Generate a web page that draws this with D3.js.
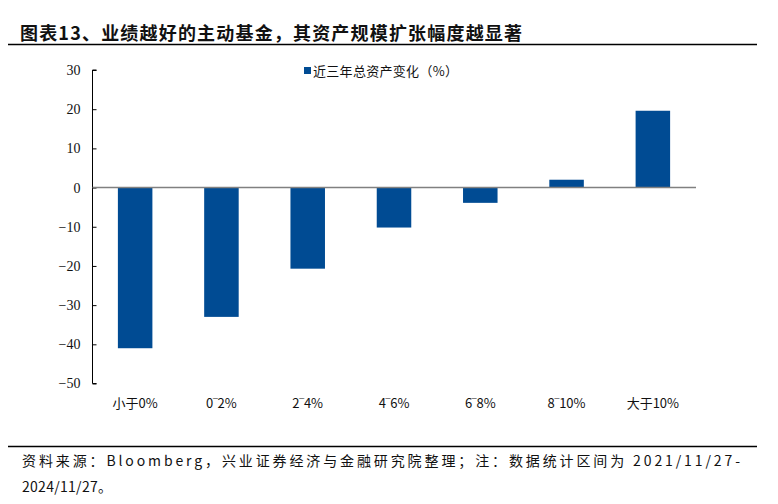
<!DOCTYPE html>
<html><head><meta charset="utf-8">
<script src="https://cdn.jsdelivr.net/npm/d3@7"></script>
<style>body{margin:0;background:#fff}svg{display:block}</style>
</head><body>
<script>
const categories = ["小于0%", "0‾2%", "2‾4%", "4‾6%", "6‾8%", "8‾10%", "大于10%"];
const values = [-41.0, -33.0, -20.7, -10.2, -3.9, 2.0, 19.6];
const yTicks = [30, 20, 10, 0, -10, -20, -30, -40, -50];
const seriesName = "近三年总资产变化（%）";
const titleText = "图表13、业绩越好的主动基金，其资产规模扩张幅度越显著";
const footLine1 = "资料来源：Bloomberg，兴业证券经济与金融研究院整理；注：数据统计区间为 2021/11/27-";
const footLine2 = "2024/11/27。";

const W = 778, H = 504;
const svg = d3.select("body").append("svg").attr("width", W).attr("height", H);
const cjk = "'Noto Sans CJK SC', 'Liberation Serif', serif";
const serif = "'Times New Roman', 'Liberation Serif', 'DejaVu Serif', serif";

svg.append("text").attr("x", 20).attr("y", 40).attr("font-family", cjk)
  .attr("font-weight", "bold").attr("font-size", 18).attr("fill", "#111")
  .attr("textLength", 502).attr("lengthAdjust", "spacing").text(titleText);
svg.append("line").attr("x1", 8).attr("x2", 757).attr("y1", 44.5).attr("y2", 44.5)
  .attr("stroke", "#000").attr("stroke-width", 1.5);

const x = d3.scaleBand().domain(categories).range([92, 696]).paddingInner(0.6).paddingOuter(0.3);
const y = d3.scaleLinear().domain([-50, 30]).range([383.5, 70]);

// bars
svg.selectAll("rect.bar").data(values).enter().append("rect")
  .attr("x", (d, i) => x(categories[i]))
  .attr("width", x.bandwidth())
  .attr("y", d => y(Math.max(0, d)))
  .attr("height", d => Math.abs(y(d) - y(0)))
  .attr("fill", "#004b93");

// y axis
const yAxis = d3.axisRight(y).tickValues(yTicks).tickSize(4).tickFormat(d => d < 0 ? "−" + Math.abs(d) : d);
const ga = svg.append("g").attr("transform", "translate(92.5,0)").call(yAxis)
  .attr("font-family", serif).attr("font-size", 14);
ga.select(".domain").attr("stroke", "#000").attr("d", "M4,70H0V383.5H4");
ga.selectAll(".tick line").attr("stroke", "#000");
ga.selectAll(".tick text").attr("x", -12).attr("text-anchor", "end")
  .style("font-family", serif).attr("fill", "#111");

// zero line
svg.append("line").attr("x1", 92.5).attr("x2", 696).attr("y1", y(0)).attr("y2", y(0))
  .attr("stroke", "#808080").attr("stroke-width", 1.5);

// x labels
svg.selectAll("text.xl").data(categories).enter().append("text")
  .attr("x", d => x(d) + x.bandwidth() / 2).attr("y", 408)
  .attr("text-anchor", "middle").attr("font-family", cjk).attr("font-size", 13).attr("fill", "#111")
  .text(d => d);

// legend
svg.append("rect").attr("x", 304).attr("y", 67).attr("width", 7).attr("height", 7).attr("fill", "#004b93");
svg.append("text").attr("x", 313).attr("y", 76).attr("font-family", cjk).attr("font-size", 13)
  .attr("fill", "#111").attr("textLength", 145).attr("lengthAdjust", "spacing").text(seriesName);

// footer
svg.append("line").attr("x1", 8).attr("x2", 757).attr("y1", 446.5).attr("y2", 446.5)
  .attr("stroke", "#000").attr("stroke-width", 1.5);
svg.append("text").attr("x", 22).attr("y", 466).attr("font-family", cjk).attr("font-size", 14)
  .attr("fill", "#111").attr("textLength", 718).attr("lengthAdjust", "spacing").text(footLine1);
svg.append("text").attr("x", 22).attr("y", 492).attr("font-family", cjk).attr("font-size", 14)
  .attr("fill", "#111").attr("textLength", 90).attr("lengthAdjust", "spacing").text(footLine2);
</script>
</body></html>
